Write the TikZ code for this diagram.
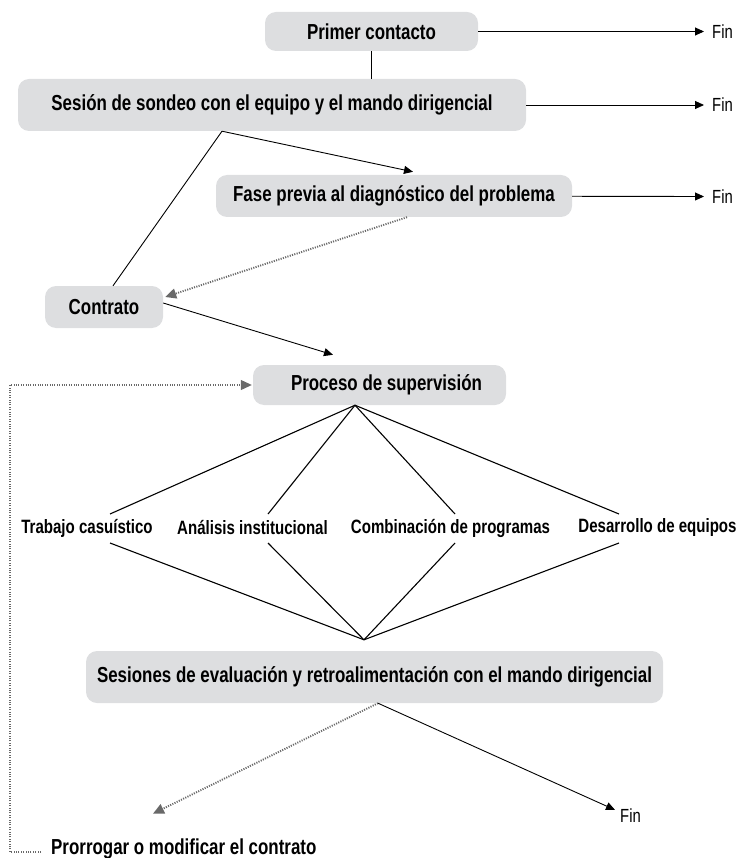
\documentclass[tikz,border=0pt]{standalone}
\usepackage{fontspec}
\setmainfont{Liberation Sans}[FakeStretch=0.78]
\usetikzlibrary{positioning,arrows.meta}
\definecolor{boxgray}{RGB}{221,222,224}
\definecolor{dotgray}{RGB}{105,105,105}

\begin{document}
\begin{tikzpicture}[
      x=1pt,y=-1pt,
      box/.style={rectangle,fill=boxgray,rounded corners=11pt,inner sep=0pt,align=center,font=\fontsize{21.7}{24}\selectfont\bfseries},
      tag/.style={inner sep=0pt,font=\fontsize{19.3}{22}\selectfont\bfseries},
      fin/.style={inner sep=0pt,anchor=west,font=\fontsize{19}{22}\selectfont},
      link/.style={line width=0.9pt},
      arr/.style={link,-{Triangle[length=9pt,width=8pt]}},
      dots/.style={dotgray,line width=1.9pt,dash pattern=on 1.1pt off 1.3pt,-{Triangle[length=11pt,width=10pt]}},
    ]
    \useasboundingbox (0,0) rectangle (741,858);
    \node[box,minimum width=213pt,minimum height=39pt] (primer) at (371.5,31.5) {Primer contacto};
    \node[box,minimum width=508pt,minimum height=52pt] (sesion) at (272,105) {Sesión de sondeo con el equipo y el mando dirigencial};
    \node[box,minimum width=356pt,minimum height=42pt] (fase) at (394,196) {Fase previa al diagnóstico del problema};
    \node[box,minimum width=118pt,minimum height=42pt] (contrato) at (104,307) {Contrato};
    \node[box,minimum width=253pt,minimum height=40pt] (proceso) at (379.5,385) {\hspace*{14pt}Proceso de supervisión};
    \node[tag] (trabajo) at (87,528) {Trabajo casuístico};
    \node[tag] (analisis) at (252.5,528) {Análisis institucional};
    \node[tag] (combina) at (450.5,528) {Combinación de programas};
    \node[tag] (desarrollo) at (657.5,528) {Desarrollo de equipos};
    \node[box,minimum width=577pt,minimum height=52pt] (sesiones) at (374.5,677) {Sesiones de evaluación y retroalimentación con el mando dirigencial};
    \node[box,fill=none,anchor=west] (prorrogar) at (51,849) {Prorrogar o modificar el contrato};
    \node[fin] (fin1) at (712,31.5) {Fin};
    \node[fin] (fin2) at (712,105) {Fin};
    \node[fin] (fin3) at (712,196.5) {Fin};
    \node[fin] (fin4) at (620,816) {Fin};
    % salidas a Fin
    \draw[arr] (primer) -- ([xshift=-8pt]fin1.west);
    \draw[arr] (sesion) -- ([xshift=-8pt]fin2.west);
    \draw[arr] (fase) -- ([xshift=-8pt]fin3.west);
    \draw[link] (primer.south) -- (primer.south |- sesion.north);
    \coordinate (fork) at ([xshift=-50pt]sesion.south);
    \draw[link] (fork) -- ([xshift=9pt]contrato.north);
    \draw[arr] (fork) -- ([xshift=19pt,yshift=3pt]fase.north);
    \draw[dots] ([xshift=13pt]fase.south) -- ([xshift=2pt,yshift=10pt]contrato.east);
    \draw[arr] ([yshift=4pt]contrato.east) -- ([xshift=-46.5pt,yshift=10pt]proceso.north);
    % abanico de modalidades
    \coordinate (apex) at ([xshift=-24.5pt]proceso.south);
    \coordinate (base) at ([xshift=-10.5pt,yshift=11pt]sesiones.north);
    \foreach \n/\dx in {trabajo/23,analisis/15.5,combina/4.5,desarrollo/-38.5}{
      \draw[link,line width=1.1pt] (apex) -- ([xshift=\dx pt,yshift=14pt]\n.center);
      \draw[link,line width=1.1pt] ([xshift=\dx pt,yshift=-15pt]\n.center) -- (base);
    }
    \draw[dots] ([xshift=3.5pt]sesiones.south) -- ([xshift=102pt,yshift=25pt]prorrogar.north west);
    \draw[arr] ([xshift=3.5pt]sesiones.south) -- ([xshift=-5pt,yshift=-1pt]fin4.north west);
    \draw[dots,line width=1.1pt] ([xshift=-10pt,yshift=-3pt]prorrogar.west) -- ++(-31,0) |- ([xshift=-1pt]proceso.west);
  \end{tikzpicture}
\end{document}
